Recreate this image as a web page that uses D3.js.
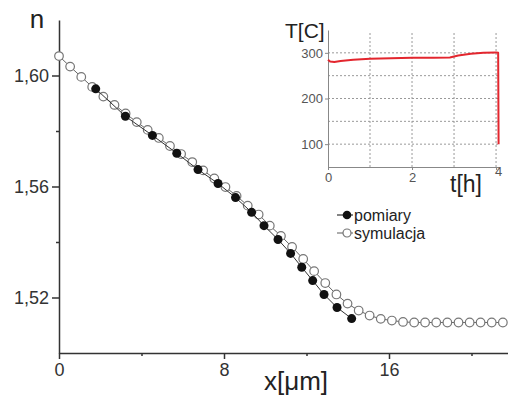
<!DOCTYPE html>
<html>
<head>
<meta charset="utf-8">
<script src="https://cdn.jsdelivr.net/npm/d3@7"></script>
<style>
  html, body { margin: 0; padding: 0; background: #fff; }
  svg { display: block; font-family: "Liberation Sans", Arial, sans-serif; }
</style>
</head>
<body>
<svg id="chart" width="508" height="396"></svg>
<script>
// Refractive index profile: measurement vs simulation, with temperature inset
const simX = [0, 0.54, 1.08, 1.61, 2.15, 2.69, 3.23, 3.77, 4.30, 4.84, 5.38, 5.92, 6.46, 6.99,
  7.53, 8.07, 8.61, 9.15, 9.68, 10.22, 10.76, 11.30, 11.84, 12.37, 12.91, 13.45, 13.99, 14.53,
  15.06, 15.60, 16.14, 16.68, 17.22, 17.75, 18.29, 18.83, 19.37, 19.91, 20.44, 20.98, 21.52];
const simN = [1.6070, 1.6032, 1.5995, 1.5959, 1.5924, 1.5894, 1.5863, 1.5832, 1.5804, 1.5775,
  1.5746, 1.5717, 1.5688, 1.5658, 1.5629, 1.5598, 1.5566, 1.5531, 1.5499, 1.5459, 1.5422,
  1.5382, 1.5339, 1.5295, 1.5252, 1.5211, 1.5178, 1.5153, 1.5135, 1.5123, 1.5117, 1.5112,
  1.5110, 1.5110, 1.5110, 1.5110, 1.5110, 1.5110, 1.5110, 1.5110, 1.5110];

const measX = [1.78, 3.22, 4.53, 5.71, 6.74, 7.71, 8.56, 9.34, 9.94, 10.62, 11.23, 11.77,
  12.30, 12.85, 13.48, 14.19];
const measN = [1.5952, 1.5853, 1.5784, 1.5720, 1.5661, 1.5611, 1.5560, 1.5507, 1.5459,
  1.5409, 1.5359, 1.5309, 1.5261, 1.5211, 1.5164, 1.5124];

const xTicks = [0, 8, 16];
const xMinor = [4, 12, 20];
const yTicks = [1.52, 1.56, 1.60];
const yMinor = [1.54, 1.58];

// inset: temperature over time
const timeH = [0, 0.05, 0.15, 0.3, 0.6, 1.0, 1.5, 2.0, 2.5, 2.9, 3.1, 3.4, 3.7, 4.0, 4.05, 4.06];
const tempC = [285, 281, 280, 282, 285, 287, 288, 289, 289, 290, 294, 298, 300, 301, 300, 100];
const tTicks = [0, 2, 4];
const tGrid = [1, 2, 3, 4];
const TTicks = [100, 200, 300];
const TGrid = [100, 150, 200, 250, 300];

const svg = d3.select("#chart");
svg.append("rect").attr("width", 508).attr("height", 396).attr("fill", "#fff");

const x = d3.scaleLinear().domain([0, 22]).range([59, 512.75]);
const y = d3.scaleLinear().domain([1.50, 1.62]).range([353, 20]);

const axisColor = "#333";
const fmt = d => d.toFixed(2).replace(".", ",");

const styleAxis = (g, color, width) => {
  g.selectAll("path").attr("stroke", color).attr("stroke-width", width);
  g.selectAll("line").attr("stroke", color).attr("stroke-width", width);
  g.selectAll("text").attr("fill", color);
};

// main axes
const yAxis = svg.append("g")
  .attr("transform", `translate(${x(0)},0)`)
  .call(d3.axisLeft(y).tickValues(yTicks).tickFormat(fmt).tickSize(7).tickSizeOuter(0).tickPadding(3))
  .attr("font-size", 18).attr("font-family", null);
styleAxis(yAxis, axisColor, 1.5);

const yAxisMinor = svg.append("g")
  .attr("transform", `translate(${x(0)},0)`)
  .call(d3.axisLeft(y).tickValues(yMinor).tickFormat("").tickSize(3).tickSizeOuter(0));
yAxisMinor.select(".domain").remove();
styleAxis(yAxisMinor, axisColor, 1.5);

const xAxis = svg.append("g")
  .attr("transform", `translate(0,${y(1.50)})`)
  .call(d3.axisBottom(x).tickValues(xTicks).tickFormat(d3.format("d")).tickSize(6).tickSizeOuter(0).tickPadding(4))
  .attr("font-size", 18).attr("font-family", null);
styleAxis(xAxis, axisColor, 1.5);

const xAxisMinor = svg.append("g")
  .attr("transform", `translate(0,${y(1.50)})`)
  .call(d3.axisBottom(x).tickValues(xMinor).tickFormat("").tickSize(3).tickSizeOuter(0));
xAxisMinor.select(".domain").remove();
styleAxis(xAxisMinor, axisColor, 1.5);

// axis titles
svg.append("text").attr("x", 37).attr("y", 28).attr("text-anchor", "middle")
  .attr("font-size", 26).attr("fill", "#222").text("n");
svg.append("text").attr("x", 264).attr("y", 390)
  .attr("font-size", 26).attr("fill", "#222").text("x[μm]");

// series
const simData = simX.map((v, i) => ({ x: v, n: simN[i] }));
const measData = measX.map((v, i) => ({ x: v, n: measN[i] }));
const line = d3.line().x(d => x(d.x)).y(d => y(d.n));

svg.append("path").datum(simData)
  .attr("fill", "none").attr("stroke", "#666").attr("stroke-width", 1).attr("d", line);
svg.append("g").selectAll("circle").data(simData).join("circle")
  .attr("cx", d => x(d.x)).attr("cy", d => y(d.n)).attr("r", 4.3)
  .attr("fill", "#fff").attr("stroke", "#777").attr("stroke-width", 1.2);

svg.append("path").datum(measData)
  .attr("fill", "none").attr("stroke", "#333").attr("stroke-width", 1).attr("d", line);
svg.append("g").selectAll("circle").data(measData).join("circle")
  .attr("cx", d => x(d.x)).attr("cy", d => y(d.n)).attr("r", 4.5)
  .attr("fill", "#111");

// legend
const legend = svg.append("g").attr("transform", "translate(337,215)");
legend.append("line").attr("x1", 0).attr("x2", 16).attr("y1", 0).attr("y2", 0)
  .attr("stroke", "#333").attr("stroke-width", 1.2);
legend.append("circle").attr("cx", 10).attr("cy", 0).attr("r", 4.3).attr("fill", "#111");
legend.append("text").attr("x", 17).attr("y", 5.5).attr("font-size", 16).attr("fill", "#222").text("pomiary");
legend.append("line").attr("x1", 0).attr("x2", 16).attr("y1", 18).attr("y2", 18)
  .attr("stroke", "#777").attr("stroke-width", 1.2);
legend.append("circle").attr("cx", 10).attr("cy", 18).attr("r", 4).attr("fill", "#fff")
  .attr("stroke", "#777").attr("stroke-width", 1.2);
legend.append("text").attr("x", 17).attr("y", 23.5).attr("font-size", 16).attr("fill", "#222").text("symulacja");

// inset
const xt = d3.scaleLinear().domain([0, 4.07]).range([328, 499]);
const yt = d3.scaleLinear().domain([50, 350]).range([167, 30]);
const inset = svg.append("g");

inset.append("g").selectAll("line").data(TGrid).join("line")
  .attr("x1", xt(0)).attr("x2", xt(4.07)).attr("y1", d => yt(d)).attr("y2", d => yt(d))
  .attr("stroke", "#999").attr("stroke-width", 1).attr("stroke-dasharray", "2,2");
inset.append("g").selectAll("line").data(tGrid).join("line")
  .attr("x1", d => xt(d)).attr("x2", d => xt(d)).attr("y1", yt(50)).attr("y2", yt(345))
  .attr("stroke", "#999").attr("stroke-width", 1).attr("stroke-dasharray", "2,2");

const tAxis = inset.append("g")
  .attr("transform", `translate(0,${yt(50)})`)
  .call(d3.axisBottom(xt).tickValues(tTicks).tickFormat(d3.format("d")).tickSize(3).tickSizeOuter(0).tickPadding(3))
  .attr("font-size", 13).attr("font-family", null);
styleAxis(tAxis, "#888", 1);
tAxis.selectAll("text").attr("fill", "#555");
tAxis.selectAll(".tick").filter(d => d === 4).select("text").attr("y", 0).attr("x", 2);

const TAxis = inset.append("g")
  .attr("transform", `translate(${xt(0)},0)`)
  .call(d3.axisLeft(yt).tickValues(TTicks).tickSize(3).tickSizeOuter(0).tickPadding(2))
  .attr("font-size", 13).attr("font-family", null);
styleAxis(TAxis, "#888", 1);
TAxis.selectAll("text").attr("fill", "#555");

const tempData = timeH.map((v, i) => ({ t: v, T: tempC[i] }));
inset.append("path").datum(tempData)
  .attr("fill", "none").attr("stroke", "#e3262e").attr("stroke-width", 2)
  .attr("stroke-linejoin", "round")
  .attr("d", d3.line().x(d => xt(d.t)).y(d => yt(d.T)));

inset.append("text").attr("x", 285).attr("y", 38)
  .attr("font-size", 21).attr("fill", "#222").text("T[C]");
inset.append("text").attr("x", 450).attr("y", 192)
  .attr("font-size", 23).attr("fill", "#222").text("t[h]");
</script>
</body>
</html>
